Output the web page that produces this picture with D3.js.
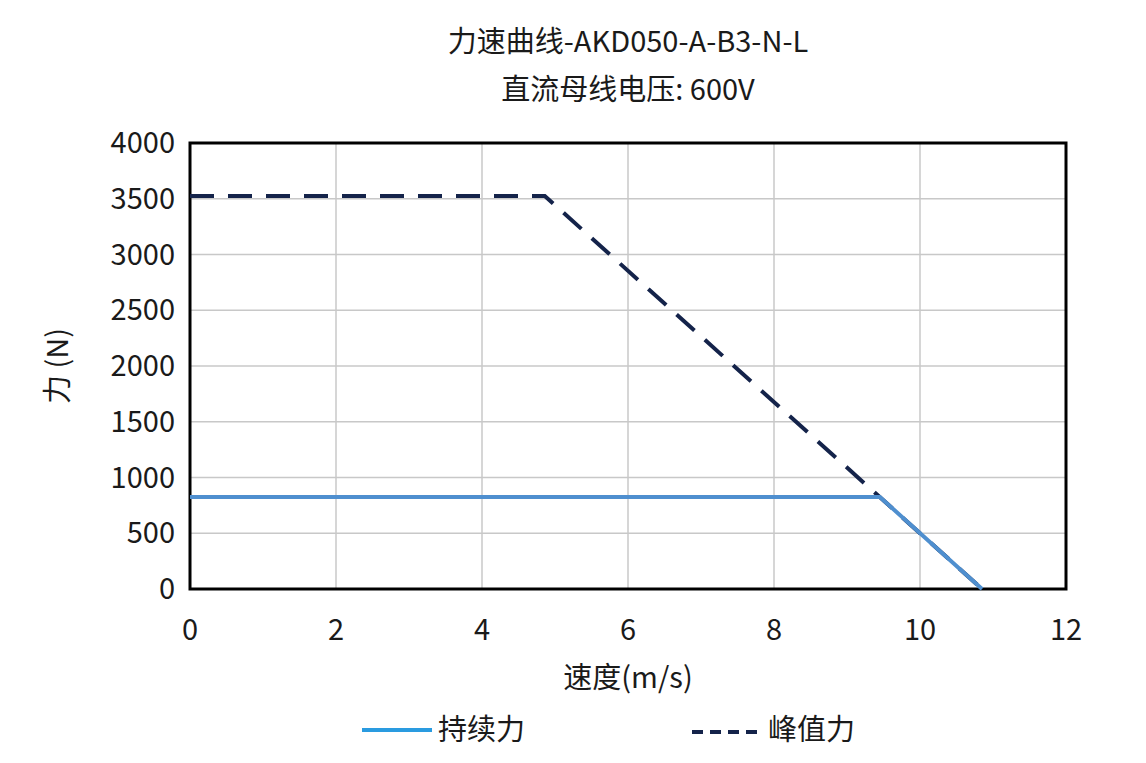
<!DOCTYPE html>
<html><head><meta charset="utf-8">
<script src="https://cdn.jsdelivr.net/npm/d3@7"></script>
<style>body{margin:0;background:#fff}text{font-family:"Noto Sans CJK SC","Noto Sans",sans-serif;fill:#1a1a1a}</style>
</head><body><svg id="c" width="1146" height="763"></svg>
<script>
// chart data
const xTicks = [0, 2, 4, 6, 8, 10, 12];
const yTicks = [0, 500, 1000, 1500, 2000, 2500, 3000, 3500, 4000];
const contSpeed = [0, 9.45, 10.85];
const contForce = [825, 825, 0];
const peakSpeed = [0, 4.86, 10.85];
const peakForce = [3525, 3525, 0];

const svg = d3.select("#c");
const m = { l: 190, r: 1066, t: 143, b: 589 };
const x = d3.scaleLinear().domain([0, 12]).range([m.l, m.r]);
const y = d3.scaleLinear().domain([0, 4000]).range([m.b, m.t]);

// grid
svg.append("g").selectAll("line").data(xTicks).join("line")
	.attr("x1", d => x(d)).attr("x2", d => x(d)).attr("y1", m.t).attr("y2", m.b)
	.attr("stroke", "#c8c8c8").attr("stroke-width", 1.5);
svg.append("g").selectAll("line").data(yTicks).join("line")
	.attr("x1", m.l).attr("x2", m.r).attr("y1", d => y(d)).attr("y2", d => y(d))
	.attr("stroke", "#c8c8c8").attr("stroke-width", 1.5);
svg.append("rect").attr("x", m.l).attr("y", m.t).attr("width", m.r - m.l).attr("height", m.b - m.t)
	.attr("fill", "none").attr("stroke", "#000").attr("stroke-width", 3);

// tick labels
svg.append("g").selectAll("text").data(xTicks).join("text")
	.attr("x", d => x(d)).attr("y", 640).attr("text-anchor", "middle")
	.attr("font-size", 29).text(d => d);
svg.append("g").selectAll("text").data(yTicks).join("text")
	.attr("x", 175).attr("y", d => y(d) + 10).attr("text-anchor", "end")
	.attr("font-size", 29).text(d => d);

const line = d3.line().x(d => x(d[0])).y(d => y(d[1]));
svg.append("path").datum(d3.zip(peakSpeed, peakForce)).attr("d", line)
	.attr("fill", "none").attr("stroke", "#14234a").attr("stroke-width", 4).attr("stroke-dasharray", "24,14");
svg.append("path").datum(d3.zip(contSpeed, contForce)).attr("d", line)
	.attr("fill", "none").attr("stroke", "#4f8fcf").attr("stroke-width", 4);

// titles
svg.append("text").attr("x", 628).attr("y", 52).attr("text-anchor", "middle").attr("font-size", 29).text("力速曲线-AKD050-A-B3-N-L");
svg.append("text").attr("x", 628).attr("y", 100).attr("text-anchor", "middle").attr("font-size", 29).text("直流母线电压: 600V");
svg.append("text").attr("x", 628).attr("y", 688).attr("text-anchor", "middle").attr("font-size", 29).text("速度(m/s)");
svg.append("text").attr("transform", "translate(68,366) rotate(-90)").attr("text-anchor", "middle").attr("font-size", 29).text("力 (N)");

// legend
svg.append("line").attr("x1", 362).attr("x2", 432).attr("y1", 730).attr("y2", 730).attr("stroke", "#2a9be0").attr("stroke-width", 4);
svg.append("text").attr("x", 438).attr("y", 740).attr("font-size", 29).text("持续力");
svg.append("line").attr("x1", 692).attr("x2", 762).attr("y1", 732).attr("y2", 732).attr("stroke", "#14234a").attr("stroke-width", 4).attr("stroke-dasharray", "11,7");
svg.append("text").attr("x", 768).attr("y", 740).attr("font-size", 29).text("峰值力");
</script></body></html>
